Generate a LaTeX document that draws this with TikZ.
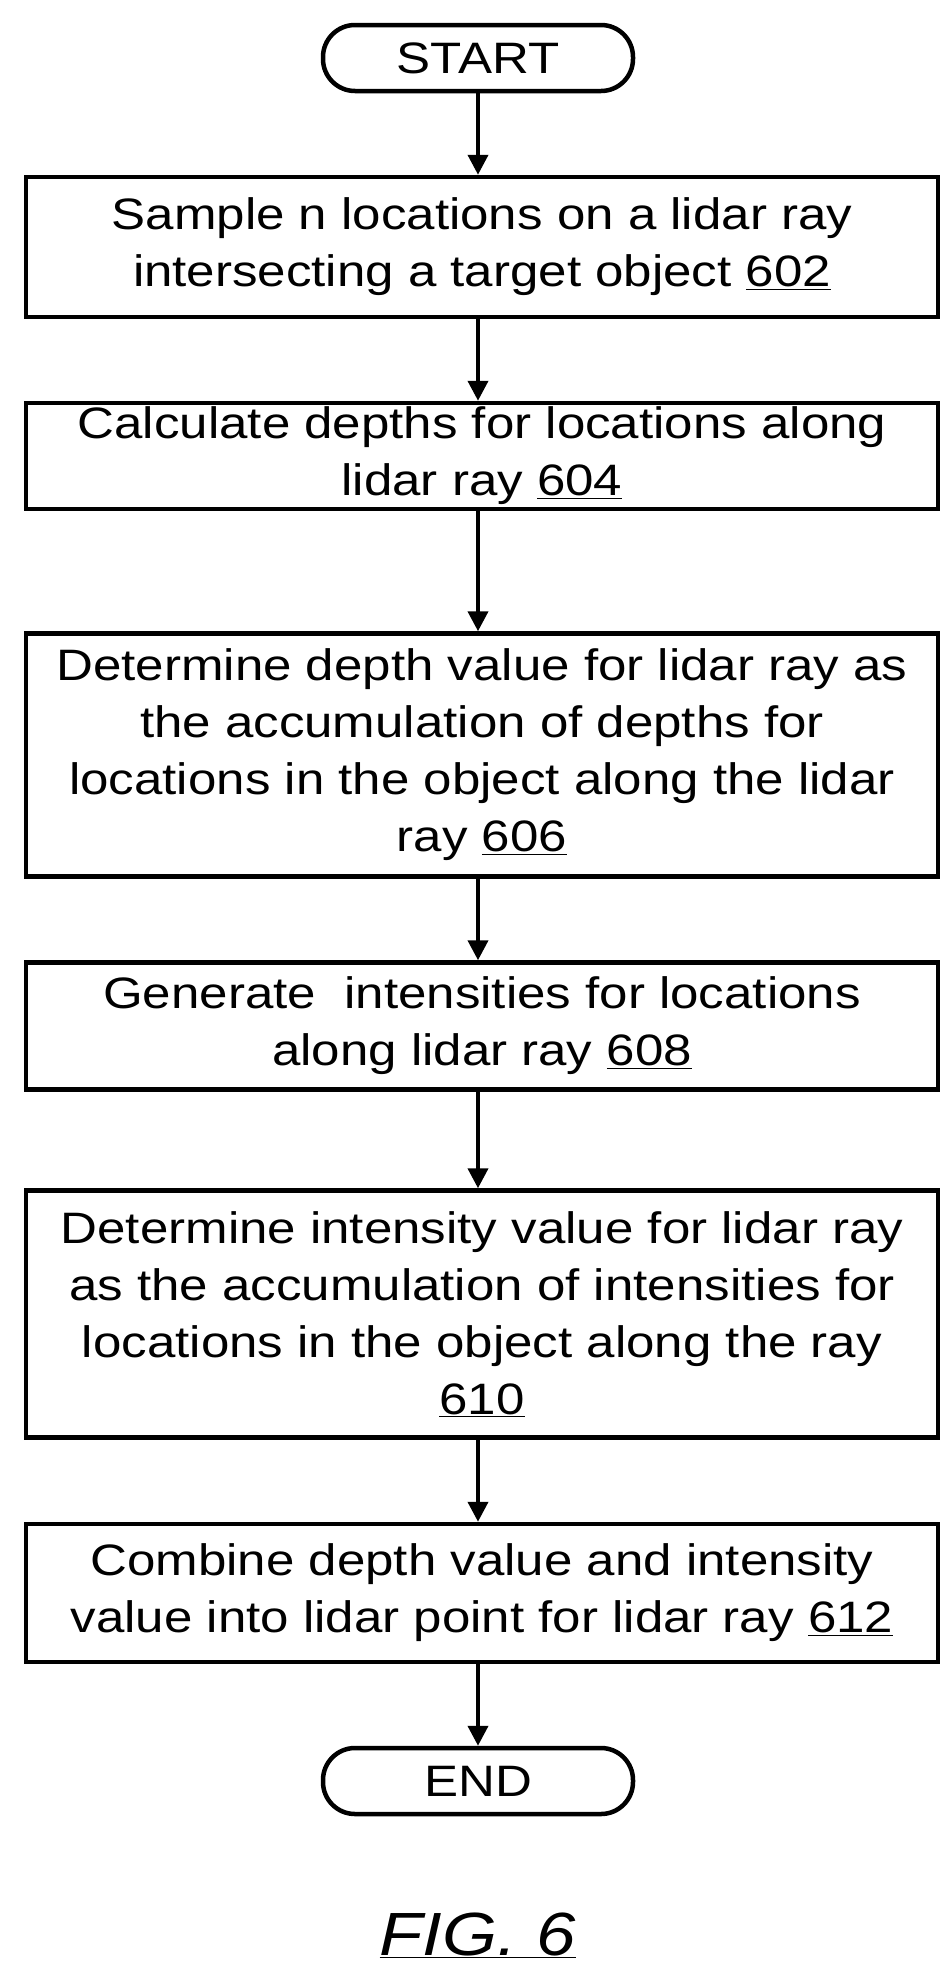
\documentclass[tikz,border=0pt]{standalone}
\usepackage{fontspec}
\setmainfont{Liberation Sans}[FakeStretch=1.16]
\usetikzlibrary{arrows.meta}
\begin{document}
\begin{tikzpicture}[x=1pt,y=-1pt,
  every node/.style={font=\fontsize{44}{57}\selectfont},
  stepbox/.style={draw,line width=4.5pt,minimum width=912pt,align=center,inner sep=0pt},
  term/.style={draw,line width=4.5pt,rounded corners=32pt,minimum width=310pt,minimum height=66pt,inner sep=0pt},
  arr/.style={line width=4pt,-{Triangle[length=20pt,width=20pt]}}]
\useasboundingbox (0,0) rectangle (950,1976);
\node[term] (s) at (478,58) {START};
\node[stepbox,minimum height=140pt] (b1) at (482,247) {Sample n locations on a lidar ray\\intersecting a target object \underline{602}};
\node[stepbox,minimum height=106pt] (b2) at (482,456) {Calculate depths for locations along\\lidar ray \underline{604}};
\node[stepbox,minimum height=243pt] (b3) at (482,755) {Determine depth value for lidar ray as\\the accumulation of depths for\\locations in the object along the lidar\\ray \underline{606}};
\node[stepbox,minimum height=127pt] (b4) at (482,1026) {Generate\ \ intensities for locations\\along lidar ray \underline{608}};
\node[stepbox,minimum height=247pt] (b5) at (482,1314) {Determine intensity value for lidar ray\\as the accumulation of intensities for\\locations in the object along the ray\\\underline{610}};
\node[stepbox,minimum height=138pt] (b6) at (482,1593) {Combine depth value and intensity\\value into lidar point for lidar ray \underline{612}};
\node[term] (e) at (478,1781) {END};
\node[font=\fontsize{61}{72}\selectfont\itshape] (f) at (478,1935) {\underline{FIG. 6}};
\draw[arr] (s) -- (s|-b1.north);
\draw[arr] (s|-b1.south) -- (s|-b2.north);
\draw[arr] (s|-b2.south) -- (s|-b3.north);
\draw[arr] (s|-b3.south) -- (s|-b4.north);
\draw[arr] (s|-b4.south) -- (s|-b5.north);
\draw[arr] (s|-b5.south) -- (s|-b6.north);
\draw[arr] (s|-b6.south) -- (e);
\end{tikzpicture}
\end{document}
